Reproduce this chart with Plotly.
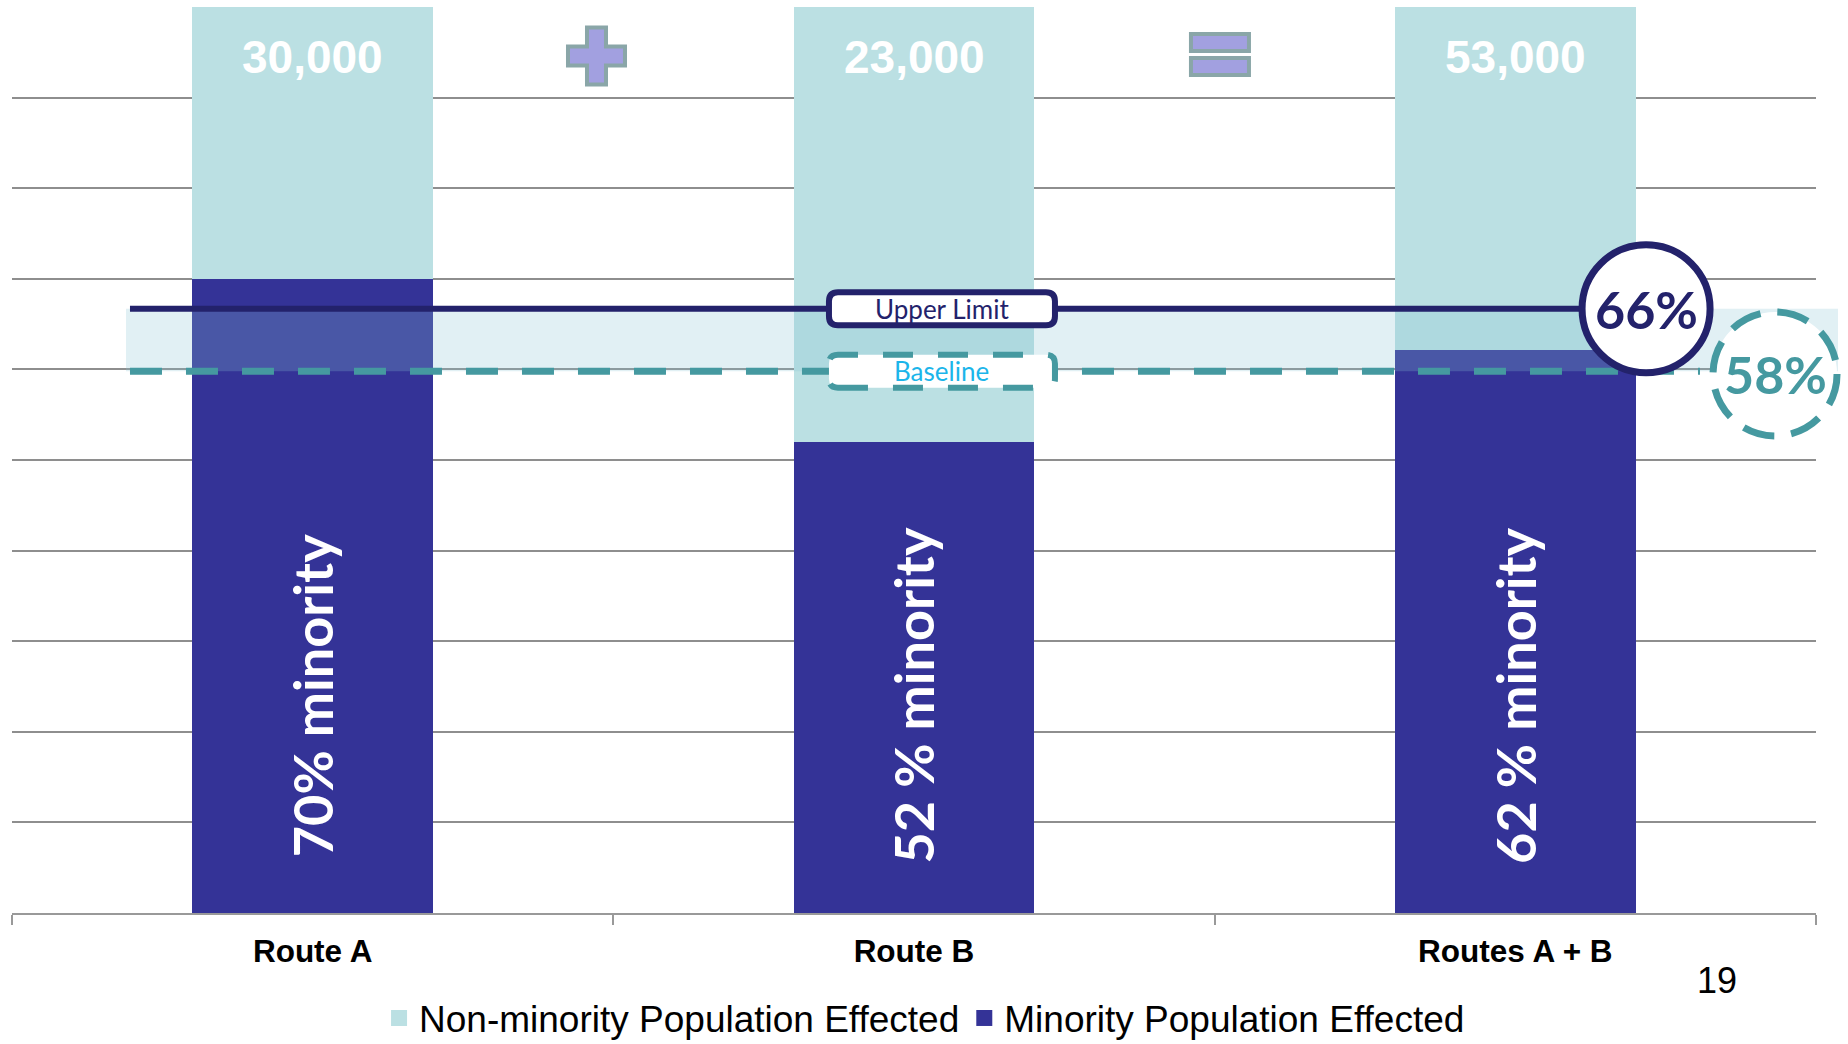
import plotly.graph_objects as go

# ---------------- data ----------------
categories = ["Route A", "Route B", "Routes A + B"]
totals = [30000, 23000, 53000]
minority = [21000, 11960, 32960]
non_minority = [9000, 11040, 20040]
minority_labels = ["70% minority", "52 % minority", "62 % minority"]
series_names = ["Non-minority Population Effected", "Minority Population Effected"]
upper_limit = 66.7      # level of the "Upper Limit" line (% of bar)
baseline = 59.8         # level of the "Baseline" line (% of bar)
upper_label = "66%"
baseline_label = "58%"
upper_text = "Upper Limit"
baseline_text = "Baseline"
page_number = "19"

# ---------------- styles ----------------
C_MIN = "#343397"
C_NON = "#bbe0e3"
C_NAVY = "#23226b"
C_TEAL = "#4599a0"
C_CYAN = "#1bb5ea"
C_GRID = "#8e8e8e"
GEO = "Lato, 'Noto Sans', sans-serif"
ARIAL = "Arial, 'Liberation Sans', sans-serif"

fig = go.Figure()
fig.add_trace(go.Bar(x=categories, y=minority, name=series_names[1], showlegend=False,
                     marker=dict(color=C_MIN, line=dict(width=0))))
fig.add_trace(go.Bar(x=categories, y=non_minority, name=series_names[0], showlegend=False,
                     marker=dict(color=C_NON, line=dict(width=0))))
# legend entries (square swatches)
for nm, col in zip(series_names, [C_NON, C_MIN]):
    fig.add_trace(go.Scatter(x=[None], y=[None], mode="markers", name=nm,
                             marker=dict(symbol="square", size=18, color=col)))


def rrect(hw, hh, r):
    return (f"M{-hw + r},{-hh} L{hw - r},{-hh} Q{hw},{-hh} {hw},{-hh + r} "
            f"L{hw},{hh - r} Q{hw},{hh} {hw - r},{hh} L{-hw + r},{hh} "
            f"Q{-hw},{hh} {-hw},{hh - r} L{-hw},{-hh + r} Q{-hw},{-hh} {-hw + r},{-hh} Z")


def rect(cx, cy, hw, hh):
    return f"M{cx - hw},{cy - hh} L{cx + hw},{cy - hh} L{cx + hw},{cy + hh} L{cx - hw},{cy + hh} Z"


def plus(a, w):
    return (f"M{-w},{-a} L{w},{-a} L{w},{-w} L{a},{-w} L{a},{w} L{w},{w} L{w},{a} "
            f"L{-w},{a} L{-w},{w} L{-a},{w} L{-a},{-w} L{-w},{-w} Z")


LBL_X = 0.5155
C66_X = 0.9058
C58_X = 0.9773
C58_Y = baseline / 100 - 0.003
shapes = [
    dict(type="rect", xref="paper", yref="paper", x0=0.0632, x1=1.0122,
         y0=baseline / 100, y1=upper_limit / 100, fillcolor="rgba(135,195,210,0.25)",
         line=dict(width=0), layer="above"),
    dict(type="line", xref="paper", yref="paper", x0=0.0654, x1=C66_X,
         y0=upper_limit / 100, y1=upper_limit / 100, line=dict(color=C_NAVY, width=6), layer="above"),
    dict(type="line", xref="paper", yref="paper", x0=0.0654, x1=0.9357,
         y0=baseline / 100, y1=baseline / 100, line=dict(color=C_TEAL, width=7, dash="32px,24px"),
         layer="above"),
    dict(type="path", xref="paper", yref="paper", xsizemode="pixel", ysizemode="pixel",
         xanchor=LBL_X, yanchor=upper_limit / 100, path=rrect(113, 16.5, 9),
         fillcolor="white", line=dict(color=C_NAVY, width=6), layer="above"),
    dict(type="path", xref="paper", yref="paper", xsizemode="pixel", ysizemode="pixel",
         xanchor=LBL_X, yanchor=baseline / 100, path=rrect(113, 16.5, 9),
         fillcolor="white", line=dict(color=C_TEAL, width=6, dash="30px,25px"), layer="above"),
    dict(type="circle", xref="paper", yref="paper", xsizemode="pixel", ysizemode="pixel",
         xanchor=C66_X, yanchor=upper_limit / 100, x0=-64, x1=64, y0=-64, y1=64,
         fillcolor="white", line=dict(color=C_NAVY, width=7), layer="above"),
    dict(type="circle", xref="paper", yref="paper", xsizemode="pixel", ysizemode="pixel",
         xanchor=C58_X, yanchor=C58_Y, x0=-62, x1=62, y0=-62, y1=62,
         fillcolor="white", line=dict(color=C_TEAL, width=7, dash="32px,17px"), layer="above"),
    dict(type="path", xref="paper", yref="paper", xsizemode="pixel", ysizemode="pixel",
         xanchor=0.324, yanchor=0.946, path=plus(28.5, 9.5),
         fillcolor="#a2a0e0", line=dict(color="#8aa6a8", width=4), layer="above"),
    dict(type="path", xref="paper", yref="paper", xsizemode="pixel", ysizemode="pixel",
         xanchor=0.6696, yanchor=0.9476, path=rect(0, -12, 29, 8.5),
         fillcolor="#a2a0e0", line=dict(color="#8aa6a8", width=4), layer="above"),
    dict(type="path", xref="paper", yref="paper", xsizemode="pixel", ysizemode="pixel",
         xanchor=0.6696, yanchor=0.9476, path=rect(0, 12, 29, 8.5),
         fillcolor="#a2a0e0", line=dict(color="#8aa6a8", width=4), layer="above"),
]

annotations = []
for c, t in zip(categories, totals):
    annotations.append(dict(x=c, y=100, xref="x", yref="y", text=f"{t:,}", showarrow=False,
                            xanchor="center", yanchor="middle", yshift=-49.5,
                            font=dict(family=ARIAL, size=46, color="white", weight="bold")))
for c, lab in zip(categories, minority_labels):
    annotations.append(dict(x=c, y=24, xref="x", yref="y", text=lab, showarrow=False,
                            xanchor="center", yanchor="middle", textangle=-90,
                            font=dict(family=GEO, size=54, color="white", weight="bold")))
annotations += [
    dict(x=LBL_X, y=upper_limit / 100, xref="paper", yref="paper", text=upper_text, showarrow=False,
         xanchor="center", yanchor="middle",
         font=dict(family=GEO, size=26, color=C_NAVY)),
    dict(x=LBL_X, y=baseline / 100, xref="paper", yref="paper", text=baseline_text, showarrow=False,
         xanchor="center", yanchor="middle",
         font=dict(family=GEO, size=26, color=C_CYAN)),
    dict(x=C66_X, y=upper_limit / 100, xref="paper", yref="paper", text=upper_label, showarrow=False,
         xanchor="center", yanchor="middle",
         font=dict(family=GEO, size=52, color=C_NAVY, weight="bold")),
    dict(x=C58_X, y=C58_Y, xref="paper", yref="paper", text=baseline_label,
         showarrow=False, xanchor="center", yanchor="middle",
         font=dict(family=GEO, size=52, color=C_TEAL, weight="bold")),
    dict(x=0.945, y=-0.075, xref="paper", yref="paper", text=page_number, showarrow=False,
         xanchor="center", yanchor="middle",
         font=dict(family=ARIAL, size=36, color="black")),
]

fig.update_layout(
    width=1848, height=1044,
    margin=dict(l=12, r=32, t=7, b=131, autoexpand=False),
    paper_bgcolor="white", plot_bgcolor="white",
    barmode="stack", barnorm="percent", bargap=0.6,
    showlegend=True,
    legend=dict(orientation="h", xref="container", yref="container",
                x=0.5003, xanchor="center", y=0.0245, yanchor="middle",
                traceorder="normal",
                font=dict(family=ARIAL, size=37, color="black"), itemwidth=30,
                bgcolor="rgba(0,0,0,0)"),
    xaxis=dict(showgrid=False, showline=True, linecolor="#999999", linewidth=2, automargin=False,
               ticks="outside", tickson="boundaries", ticklen=10, tickcolor="#999999", tickwidth=2,
               tickfont=dict(family=ARIAL, size=31.5, color="black", weight="bold"),
               ticklabelstandoff=9),
    yaxis=dict(range=[0, 100], dtick=10, showgrid=True, gridcolor=C_GRID, gridwidth=2, automargin=False,
               showticklabels=False, zeroline=False, showline=False, ticks=""),
    shapes=shapes,
    annotations=annotations,
    hovermode=False,
)

fig.write_html("out.html")
